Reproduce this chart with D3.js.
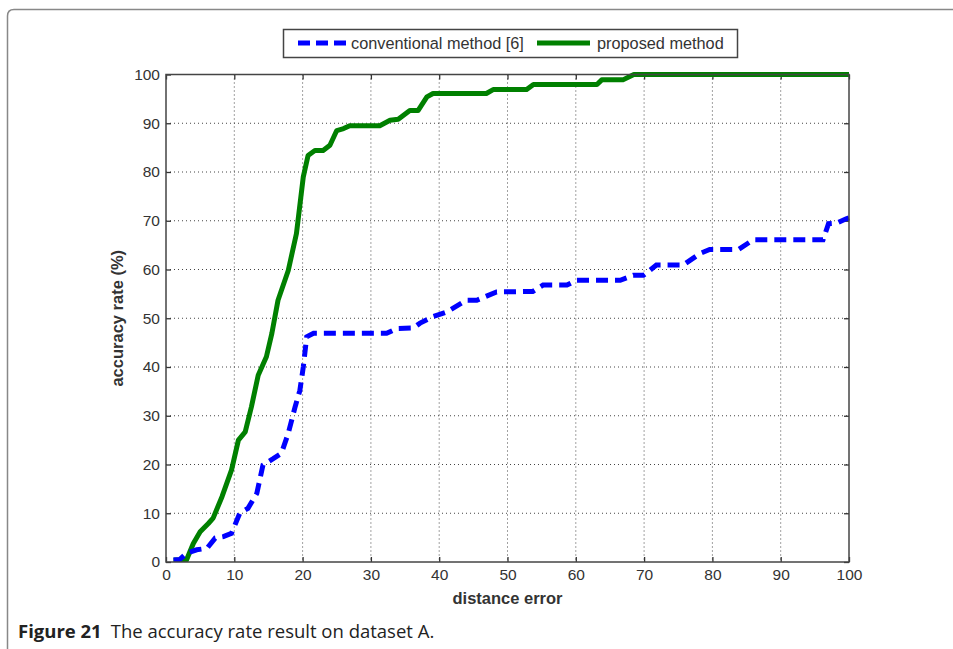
<!DOCTYPE html>
<html><head><meta charset="utf-8">
<script src="https://cdn.jsdelivr.net/npm/d3@7"></script>
<style>body{margin:0;background:#fff}svg{display:block}</style>
</head><body>
<svg id="c" width="953" height="649"></svg>
<script>
const xTicks = [0,10,20,30,40,50,60,70,80,90,100];
const yTicks = [0,10,20,30,40,50,60,70,80,90,100];
const seriesNames = ["conventional method [6]", "proposed method"];
const convX = [1.1,2.0,3.0,4.5,6.0,7.2,8.4,9.6,10.8,12.0,13.3,14.2,15.7,16.9,17.9,18.9,19.6,20.1,20.6,21.6,32.3,33.8,36.2,37.2,39.0,41.1,44.0,45.5,48.4,53.7,55.2,58.7,60.1,66.5,68.4,69.9,71.8,75.7,78.2,79.6,83.8,86.0,96.2,97.0,98.2,99.6,100];
const convY = [0.4,0.5,1.8,2.5,2.8,4.9,5.2,5.9,10.0,11.0,14.1,19.9,21.2,22.3,26.4,31.8,35.2,40.0,46.2,46.9,46.9,47.9,48.0,49.0,50.3,51.3,53.7,53.7,55.4,55.5,56.8,56.8,57.8,57.8,58.8,58.8,60.9,60.9,63.3,64.1,64.1,66.1,66.1,69.4,69.5,70.4,70.6];
const propX = [1.1,3.0,4.0,5.0,6.2,6.9,8.2,9.6,10.6,11.6,12.5,13.5,14.7,15.5,16.4,17.9,19.1,20.1,20.8,21.8,23.0,24.0,25.0,26.0,26.9,31.3,32.8,34.0,35.7,36.9,38.2,39.1,46.9,47.9,52.8,53.8,63.1,63.8,66.9,67.9,68.5,100];
const propY = [0.4,0.4,3.8,6.2,7.9,9.0,13.4,18.9,25.0,26.7,31.8,38.3,42.1,46.9,53.7,59.8,67.4,79.0,83.4,84.4,84.4,85.5,88.5,88.9,89.5,89.5,90.6,90.8,92.6,92.6,95.4,96.1,96.1,96.9,96.9,97.95,97.95,98.9,98.9,99.6,100,100];

const svg = d3.select("#c");
const L = 166, R = 849, T = 74.5, B = 562;
const x = d3.scaleLinear().domain([0,100]).range([L,R]);
const y = d3.scaleLinear().domain([0,100]).range([B,T]);
const font = "Liberation Sans, Arial, sans-serif";

// outer figure frame
svg.append("path")
  .attr("d", `M7.5,649 L7.5,16 Q7.5,9.5 14,9.5 L953,9.5`)
  .attr("fill","none").attr("stroke","#888").attr("stroke-width",1.5);

// grid
const g = svg.append("g");
g.selectAll(".vg").data(xTicks.slice(1,-1)).join("line")
  .attr("x1",d=>x(d)).attr("x2",d=>x(d)).attr("y1",T).attr("y2",B)
  .attr("stroke","#444").attr("stroke-width",1).attr("stroke-dasharray","1,3");
g.selectAll(".hg").data(yTicks.slice(1,-1)).join("line")
  .attr("y1",d=>y(d)).attr("y2",d=>y(d)).attr("x1",L).attr("x2",R)
  .attr("stroke","#444").attr("stroke-width",1).attr("stroke-dasharray","1,3");

// axes with inward ticks
const axStyle = sel => {
  sel.select(".domain").remove();
  sel.selectAll("line").attr("stroke","#333").attr("stroke-width",1.3);
  sel.selectAll("text").attr("font-family",font).attr("font-size",15.5).attr("fill","#333");
};
svg.append("g").attr("transform",`translate(0,${B})`)
  .call(d3.axisBottom(x).tickValues(xTicks).tickSizeInner(-5).tickSizeOuter(0).tickPadding(7))
  .call(axStyle);
svg.append("g").attr("transform",`translate(0,${T})`)
  .call(d3.axisTop(x).tickValues(xTicks).tickSizeInner(-5).tickSizeOuter(0).tickFormat(""))
  .call(axStyle);
svg.append("g").attr("transform",`translate(${L},0)`)
  .call(d3.axisLeft(y).tickValues(yTicks).tickSizeInner(-5).tickSizeOuter(0).tickPadding(6))
  .call(axStyle);
svg.append("g").attr("transform",`translate(${R},0)`)
  .call(d3.axisRight(y).tickValues(yTicks).tickSizeInner(-5).tickSizeOuter(0).tickFormat(""))
  .call(axStyle);

// lines
const convData = convX.map((v,i)=>[v,convY[i]]);
const propData = propX.map((v,i)=>[v,propY[i]]);
const line = d3.line().x(d=>x(d[0])).y(d=>y(d[1]));
svg.append("clipPath").attr("id","pc").append("rect")
  .attr("x",L).attr("y",T-3).attr("width",R-L+3).attr("height",B-T+3);
svg.append("path").datum(propData).attr("d",line).attr("clip-path","url(#pc)")
  .attr("fill","none").attr("stroke","#008000").attr("stroke-width",5).attr("stroke-linejoin","round");
svg.append("path").datum(convData).attr("d",line).attr("clip-path","url(#pc)")
  .attr("fill","none").attr("stroke","#0000ff").attr("stroke-width",5).attr("stroke-dasharray","12,7");

// box
svg.append("rect").attr("x",L).attr("y",T).attr("width",R-L).attr("height",B-T)
  .attr("fill","none").attr("stroke","#444").attr("stroke-width",1.5);

// axis titles
svg.append("text").attr("x",(L+R)/2).attr("y",604).attr("text-anchor","middle")
  .attr("font-family",font).attr("font-weight","bold").attr("font-size",16.5).attr("fill","#333")
  .text("distance error");
svg.append("text").attr("transform",`translate(123,${(T+B)/2}) rotate(-90)`).attr("text-anchor","middle")
  .attr("font-family",font).attr("font-weight","bold").attr("font-size",16.5).attr("fill","#333")
  .text("accuracy rate (%)");

// legend
svg.append("rect").attr("x",283.5).attr("y",29.5).attr("width",454).attr("height",28)
  .attr("fill","#fff").attr("stroke","#444").attr("stroke-width",1.5);
svg.append("line").attr("x1",298).attr("x2",346).attr("y1",43).attr("y2",43)
  .attr("stroke","#0000ff").attr("stroke-width",5).attr("stroke-dasharray","12,6");
svg.append("text").attr("x",351).attr("y",49).attr("font-family",font).attr("font-size",16.3).attr("fill","#333")
  .text(seriesNames[0]);
svg.append("line").attr("x1",537).attr("x2",590).attr("y1",43).attr("y2",43)
  .attr("stroke","#008000").attr("stroke-width",5);
svg.append("text").attr("x",597).attr("y",49).attr("font-family",font).attr("font-size",16.3).attr("fill","#333")
  .text(seriesNames[1]);

// caption
const cap = svg.append("text").attr("x",18).attr("y",638).attr("font-family","Open Sans, Noto Sans, sans-serif")
  .attr("font-size",18.5).attr("fill","#222");
cap.append("tspan").attr("font-weight","bold").text("Figure 21");
cap.append("tspan").attr("dx",9).text("The accuracy rate result on dataset A.");
</script>
</body></html>
